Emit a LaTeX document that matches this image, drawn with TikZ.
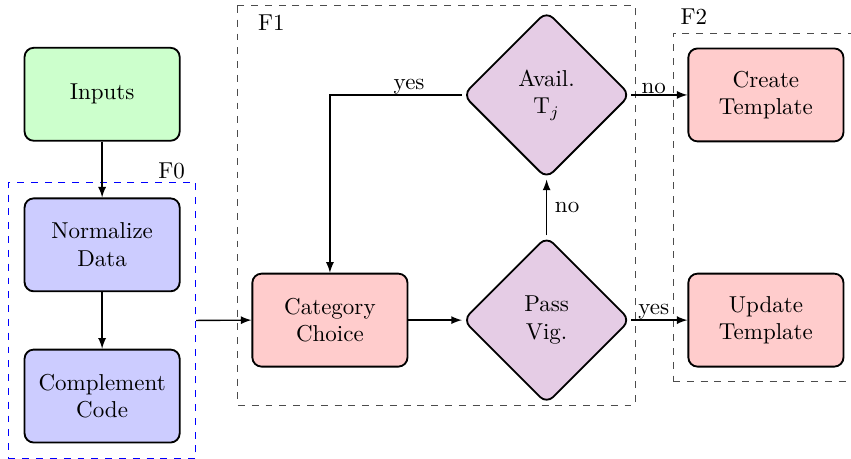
\documentclass[tikz,border=0pt]{standalone}
\usetikzlibrary{shapes.geometric,fit}

\begin{document}
\begin{tikzpicture}[
    box/.style={draw, thick, rounded corners, align=center,
      minimum width=2.37cm, minimum height=1.42cm},
    test/.style={draw, thick, diamond, rounded corners, aspect=1,
      align=center, fill=violet!20, minimum size=2.56cm, inner sep=0pt},
    link/.style={semithick, -latex},
    group/.style={draw, dashed, black!70, inner sep=0.22cm},
    tag/.style={above, inner sep=0pt}]
  \useasboundingbox (0,0) rectangle (13,-7);
  % pre-processing column
  \node[box, fill=green!20] (inputs) at (1.56,-1.44) {Inputs};
  \node[box, fill=blue!20] (norm) at (1.56,-3.74) {Normalize\\Data};
  \node[box, fill=blue!20] (compl) at (1.56,-6.05) {Complement\\Code};
  \node[group, blue, inner sep=0.23cm, fit=(norm)(compl)] (f0) {};
  \node[anchor=south east, inner sep=1pt] (f0lbl) at ([xshift=-0.13cm]f0.north east) {F0};
  % category search
  \node[box, fill=red!20] (cat) at (5.04,-4.89) {Category\\Choice};
  \node[test] (pass) at (8.35,-4.89) {Pass\\Vig.};
  \node[test] (avail) at (8.35,-1.45) {Avail.\\T$_j$};
  \draw[dashed, black!70] (3.62,-0.09) rectangle (9.70,-6.19);
  \node[anchor=north west] (f1lbl) at (3.82,-0.11) {F1};
  % template update
  \node[box, fill=red!20] (create) at (11.70,-1.45) {Create\\Template};
  \node[box, fill=red!20] (update) at (11.70,-4.89) {Update\\Template};
  \node[group, fit=(create)(update)] (f2) {};
  \node[anchor=south west] (f2lbl) at (f2.north west) {F2};
  % connections
  \draw[link] (inputs) -- (norm);
  \draw[link] (norm) -- (compl);
  \draw[link] (f0.east) -- (cat.west);
  \draw[link] (cat) -- (pass);
  \draw[link] (pass) -- node[right] {no} (avail);
  \draw[link] (avail.west) -| node[tag, pos=0.2] {yes} (cat.north);
  \draw[link] (avail.east) -- node[tag, pos=0.4] {no} (create.west);
  \draw[link] (pass.east) -- node[tag, pos=0.4] {yes} (update.west);
\end{tikzpicture}
\end{document}
